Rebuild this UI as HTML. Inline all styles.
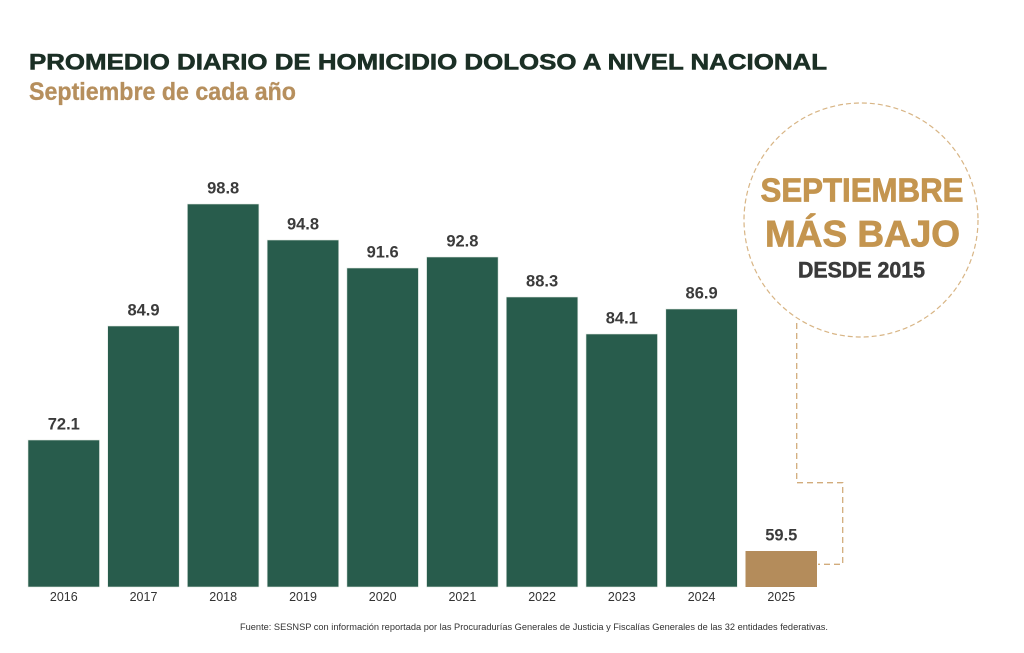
<!DOCTYPE html>
<html>
<head>
<meta charset="utf-8">
<style>
  html,body{margin:0;padding:0;background:#ffffff;}
  svg{display:block;}
  text{font-family:"Liberation Sans", "DejaVu Sans", sans-serif;}
</style>
</head>
<body>
<svg width="1024" height="653" viewBox="0 0 1024 653" xmlns="http://www.w3.org/2000/svg">
  <rect x="0" y="0" width="1024" height="653" fill="#ffffff"/>

  <!-- Title -->
  <text x="29" y="69.5" font-size="22.5" font-weight="bold" fill="#1b2f25" stroke="#1b2f25" stroke-width="0.6" textLength="798" lengthAdjust="spacingAndGlyphs">PROMEDIO DIARIO DE HOMICIDIO DOLOSO A NIVEL NACIONAL</text>
  <text x="29" y="100" font-size="25" font-weight="bold" fill="#b68f5d" stroke="#b68f5d" stroke-width="0.3" textLength="267" lengthAdjust="spacingAndGlyphs">Septiembre de cada año</text>

  <!-- Bars -->
  <g fill="#285c4c" stroke="#dfe6e2" stroke-width="0.6">
    <rect x="28" y="440" width="71.5" height="147"/>
    <rect x="107.7" y="326" width="71.5" height="261"/>
    <rect x="187.4" y="204" width="71.5" height="383"/>
    <rect x="267.2" y="240" width="71.5" height="347"/>
    <rect x="346.9" y="268" width="71.5" height="319"/>
    <rect x="426.6" y="257" width="71.5" height="330"/>
    <rect x="506.3" y="297" width="71.5" height="290"/>
    <rect x="586.0" y="334" width="71.5" height="253"/>
    <rect x="665.8" y="309" width="71.5" height="278"/>
  </g>
  <rect x="745.5" y="551" width="71.5" height="36" fill="#b48c5b"/>

  <!-- Value labels -->
  <g font-size="16.5" font-weight="bold" fill="#3b3b3b" text-anchor="middle">
    <text x="63.8" y="429.5">72.1</text>
    <text x="143.5" y="315.5">84.9</text>
    <text x="223.2" y="193.5">98.8</text>
    <text x="303" y="229.5">94.8</text>
    <text x="382.7" y="257.5">91.6</text>
    <text x="462.4" y="246.5">92.8</text>
    <text x="542.1" y="286.5">88.3</text>
    <text x="621.8" y="323.5">84.1</text>
    <text x="701.6" y="298.5">86.9</text>
    <text x="781.3" y="540.5">59.5</text>
  </g>

  <!-- Year labels -->
  <g font-size="12.5" fill="#333333" text-anchor="middle">
    <text x="63.8" y="601">2016</text>
    <text x="143.5" y="601">2017</text>
    <text x="223.2" y="601">2018</text>
    <text x="303" y="601">2019</text>
    <text x="382.7" y="601">2020</text>
    <text x="462.4" y="601">2021</text>
    <text x="542.1" y="601">2022</text>
    <text x="621.8" y="601">2023</text>
    <text x="701.6" y="601">2024</text>
    <text x="781.3" y="601">2025</text>
  </g>

  <!-- Footer -->
  <text x="240" y="630" font-size="9" fill="#333333" textLength="588" lengthAdjust="spacingAndGlyphs">Fuente: SESNSP con información reportada por las Procuradurías Generales de Justicia y Fiscalías Generales de las 32 entidades federativas.</text>

  <!-- Circle callout -->
  <circle cx="861" cy="220" r="117" fill="none" stroke="#d8b585" stroke-width="1.2" stroke-dasharray="5 3"/>
  <text x="862" y="201.7" font-size="33" font-weight="bold" fill="#c4954f" stroke="#c4954f" stroke-width="0.8" text-anchor="middle" textLength="203" lengthAdjust="spacingAndGlyphs">SEPTIEMBRE</text>
  <text x="862.5" y="246.7" font-size="37" font-weight="bold" fill="#c4954f" stroke="#c4954f" stroke-width="0.8" text-anchor="middle" textLength="195" lengthAdjust="spacingAndGlyphs">MÁS BAJO</text>
  <text x="861.5" y="277.7" font-size="22" font-weight="bold" fill="#3a3a3a" stroke="#3a3a3a" stroke-width="0.5" text-anchor="middle" textLength="127" lengthAdjust="spacingAndGlyphs">DESDE 2015</text>

  <!-- Connector -->
  <path d="M796.7 323 V482.7 H842.7 V564.3 H818" fill="none" stroke="#d2ac7c" stroke-width="1.3" stroke-dasharray="6 4"/>
</svg>
</body>
</html>
